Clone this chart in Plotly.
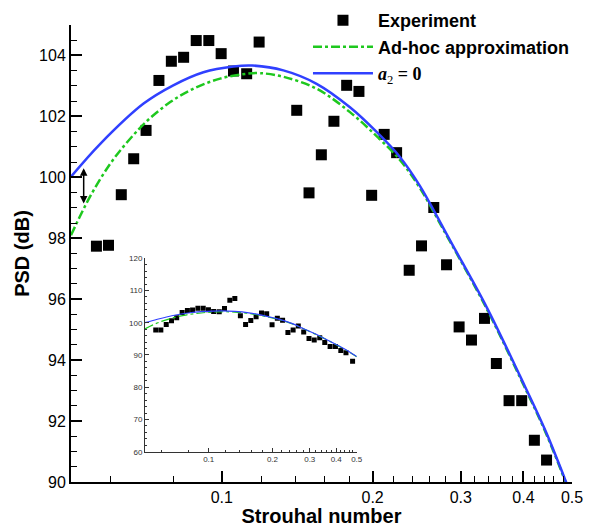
import numpy as np
import plotly.graph_objects as go

# experimental PSD points (Strouhal number, dB)
st_exp = [0.0562, 0.0594, 0.0630, 0.0667, 0.0706, 0.0749, 0.0793, 0.0839, 0.0889, 0.0942,
          0.0997, 0.1055, 0.1121, 0.1187, 0.1258, 0.1328, 0.1411, 0.1493, 0.1580, 0.1674,
          0.1775, 0.1878, 0.1991, 0.2109, 0.2233, 0.2366, 0.2504, 0.2649, 0.2809, 0.2976,
          0.3150, 0.3344, 0.3532, 0.3744, 0.3968, 0.4206, 0.4448, 0.4780]
psd_exp = [97.74, 97.77, 99.43, 100.61, 101.54, 103.18, 103.81, 103.94, 104.49, 104.49,
           104.06, 103.49, 103.40, 104.44, 107.0, 107.5, 102.2, 99.49, 100.74, 101.84,
           103.02, 102.82, 99.41, 101.41, 100.81, 96.95, 97.75, 99.01, 97.13, 95.09,
           94.66, 95.37, 93.89, 92.67, 92.67, 91.37, 90.72, 88.1]

# ad-hoc approximation curve
st_adhoc = [0.05, 0.0545, 0.0599, 0.0647, 0.0709, 0.0789, 0.0878, 0.0992, 0.1121, 0.1192,
            0.1327, 0.1546, 0.1802, 0.2037, 0.2267, 0.2485, 0.2765, 0.3375, 0.3932, 0.4444, 0.5]
psd_adhoc = [98.1, 99.35, 100.45, 101.15, 101.85, 102.47, 102.91, 103.24, 103.40, 103.42,
             103.3, 102.91, 102.14, 101.35, 100.57, 99.65, 98.3, 95.7, 93.45, 91.57, 89.45]

# a2 = 0 curve
st_a2 = [0.05, 0.0572, 0.0698, 0.080, 0.0919, 0.1055, 0.115, 0.1327, 0.1546,
         0.1802, 0.2037, 0.2267, 0.2485, 0.2765, 0.2895, 0.3375, 0.3932, 0.4444, 0.4834, 0.5]
psd_a2 = [100.02, 101.1, 102.42, 103.02, 103.45, 103.64, 103.67, 103.51, 103.07,
          102.3, 101.49, 100.67, 99.72, 98.35, 97.75, 95.75, 93.5, 91.62, 90.12, 89.5]

x_major = [0.1, 0.2, 0.3, 0.4, 0.5]
x_minor = [0.06, 0.08, 0.12, 0.14, 0.16, 0.18, 0.22, 0.24, 0.26, 0.28,
           0.32, 0.34, 0.36, 0.38, 0.42, 0.44, 0.46, 0.48]

green = "#1ec81e"
blue = "#3040ff"

fig = go.Figure()

# main plot
fig.add_trace(go.Scatter(x=st_exp, y=psd_exp, mode="markers", name="Experiment",
                         marker=dict(symbol="square", size=11, color="black")))
fig.add_trace(go.Scatter(x=st_adhoc, y=psd_adhoc, mode="lines", name="Ad-hoc approximation",
                         line=dict(color=green, width=2.5, dash="dashdot", shape="spline")))
fig.add_trace(go.Scatter(x=st_a2, y=psd_a2, mode="lines",
                         name="<span style='font-family:Liberation Serif;font-style:italic'>a</span>"
                              "<sub><span style='font-family:Liberation Serif;font-weight:normal'>2</span></sub>"
                              "<span style='font-family:Liberation Serif'> = 0</span>",
                         line=dict(color=blue, width=2.5, shape="spline")))

# inset
fig.add_trace(go.Scatter(x=st_exp, y=psd_exp, mode="markers", xaxis="x2", yaxis="y2",
                         showlegend=False, marker=dict(symbol="square", size=5, color="black")))
fig.add_trace(go.Scatter(x=st_adhoc, y=psd_adhoc, mode="lines", xaxis="x2", yaxis="y2",
                         showlegend=False,
                         line=dict(color=green, width=1.2, dash="dashdot", shape="spline")))
fig.add_trace(go.Scatter(x=st_a2, y=psd_a2, mode="lines", xaxis="x2", yaxis="y2",
                         showlegend=False, line=dict(color=blue, width=1.2, shape="spline")))

tick_font = dict(family="Liberation Sans, Arial", size=16, color="black")
title_font = dict(family="Liberation Sans, Arial", size=20, color="black")

# page body adds an 8px offset, so the figure is 8px smaller than the window
fig.update_layout(
    width=588, height=519,
    margin=dict(l=63, r=24, t=17, b=45, autoexpand=False),
    paper_bgcolor="white", plot_bgcolor="white",
    font=dict(family="Liberation Sans, Arial", color="black"),
    xaxis=dict(type="log", range=[np.log10(0.05), np.log10(0.5)], automargin=False,
               tickvals=x_major, ticktext=["0.1", "0.2", "0.3", "0.4", "0.5"],
               ticks="inside", ticklen=11, tickwidth=2, tickcolor="black",
               minor=dict(tickvals=x_minor, ticks="inside", ticklen=6, tickwidth=1, tickcolor="black"),
               showline=True, linewidth=2, linecolor="black", showgrid=False, zeroline=False,
               tickfont=tick_font,
               title=dict(text="<b>Strouhal number</b>", font=title_font, standoff=2)),
    yaxis=dict(range=[90, 105], tickvals=[90, 92, 94, 96, 98, 100, 102, 104], automargin=False,
               ticks="inside", ticklen=11, tickwidth=2, tickcolor="black",
               minor=dict(dtick=0.5, ticks="inside", ticklen=6, tickwidth=1, tickcolor="black"),
               showline=True, linewidth=2, linecolor="black", showgrid=False, zeroline=False,
               tickfont=tick_font,
               title=dict(text="<b>PSD (dB)</b>", font=title_font, standoff=4)),
    xaxis2=dict(type="log", range=[np.log10(0.05), np.log10(0.5)], domain=[0.1477, 0.5703],
                anchor="y2", tickvals=x_major, ticktext=["0.1", "0.2", "0.3", "0.4", "0.5"],
                ticks="inside", ticklen=4, tickwidth=1, tickcolor="#333", automargin=False,
                minor=dict(tickvals=x_minor, ticks="inside", ticklen=2, tickwidth=1, tickcolor="#333"),
                showline=True, linewidth=1, linecolor="#333", showgrid=False, zeroline=False,
                tickfont=dict(family="Liberation Sans, Arial", size=8, color="#333")),
    yaxis2=dict(range=[60, 120], domain=[0.0663, 0.4895], anchor="x2", automargin=False,
                tickvals=[60, 70, 80, 90, 100, 110, 120],
                ticks="inside", ticklen=4, tickwidth=1, tickcolor="#333",
                minor=dict(dtick=2, ticks="inside", ticklen=2, tickwidth=1, tickcolor="#333"),
                showline=True, linewidth=1, linecolor="#333", showgrid=False, zeroline=False,
                tickfont=dict(family="Liberation Sans, Arial", size=8, color="#333")),
    legend=dict(x=0.473, y=1.05, xanchor="left", yanchor="top", bgcolor="rgba(0,0,0,0)",
                font=dict(family="Liberation Sans, Arial", size=18, color="black", weight="bold"),
                itemwidth=60, tracegroupgap=0),
    showlegend=True,
)

# double-headed arrow near the left edge
fig.add_annotation(x=np.log10(0.0530), y=99.14, ax=np.log10(0.0530), ay=100.35,
                   xref="x", yref="y", axref="x", ayref="y", text="",
                   showarrow=True, arrowhead=2, arrowside="end+start",
                   arrowsize=1, arrowwidth=1.5, arrowcolor="black")

fig.write_html("out.html")
